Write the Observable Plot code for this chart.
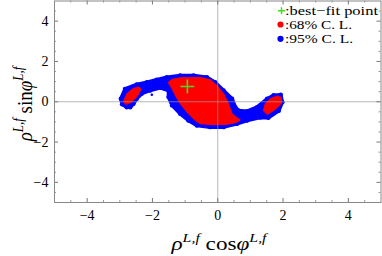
<!DOCTYPE html>
<html><head><meta charset="utf-8">
<script src="https://cdn.jsdelivr.net/npm/d3@7"></script>
<script src="https://cdn.jsdelivr.net/npm/@observablehq/plot@0.6"></script>
<style>body{margin:0;background:#fff} svg{display:block}</style>
</head><body><div id="chart"></div>
<script>
// 95% C.L. region outline (x = rho cos phi, y = rho sin phi)
const blueRegion = [[-2.97,0.15],[-2.93,-0.13],[-2.79,-0.27],[-2.68,-0.27],[-2.58,-0.10],[-2.48,0.15],[-2.33,0.40],[-2.07,0.56],[-1.76,0.69],[-1.51,0.56],[-1.51,0.23],[-1.40,-0.18],[-1.15,-0.60],[-0.90,-0.93],[-0.64,-1.18],[-0.23,-1.26],[0.18,-1.26],[0.59,-1.09],[0.90,-0.93],[1.30,-0.78],[1.55,-0.80],[1.87,-0.45],[1.98,-0.02],[1.93,0.35],[1.71,0.32],[1.51,0.15],[1.20,-0.27],[0.90,-0.47],[0.64,-0.43],[0.54,-0.27],[0.44,0.15],[0.18,0.56],[-0.08,0.97],[-0.33,1.22],[-0.74,1.30],[-1.15,1.30],[-1.56,1.22],[-1.87,1.09],[-2.17,0.97],[-2.48,0.86],[-2.84,0.64]];
const strayPoints = [[-2.02,0.35]];
// 68% C.L. regions
const redMain = [[-1.51,0.97],[-1.40,1.11],[-1.15,1.19],[-0.54,1.21],[-0.23,1.09],[-0.02,0.81],[0.18,0.40],[0.33,-0.10],[0.44,-0.60],[0.59,-0.79],[0.69,-0.90],[0.57,-1.03],[0.28,-1.12],[-0.13,-1.14],[-0.54,-1.09],[-0.69,-0.93],[-0.90,-0.60],[-1.15,-0.10],[-1.30,0.31],[-1.40,0.64]];
const redLeft = [[-2.88,0.06],[-2.78,0.41],[-2.59,0.66],[-2.41,0.73],[-2.35,0.61],[-2.47,0.26],[-2.65,-0.03],[-2.81,-0.13]];
const redRight = [[1.40,-0.43],[1.46,-0.08],[1.61,0.16],[1.83,0.29],[1.95,0.21],[1.95,-0.08],[1.76,-0.38],[1.52,-0.63]];
const bestFit = [[-0.93,0.76]];
const tickMajor = [-4,-2,0,2,4];
const tickMinor = [-4.5,-3.5,-3,-2.5,-1.5,-1,-0.5,0.5,1,1.5,2.5,3,3.5,4.5];
const legendLabels = [":best\u2212fit point", ":68% C. L.", ":95% C. L."];
const legendColors = ["#44dd22", "#ff0000", "#0000ff"];

const W = 382, H = 256;
const serif = "'Liberation Serif', 'DejaVu Serif', serif";
const mx = 0.123, my = 0.198; // major tick lengths in data units
const poly = (pts, color, sw) => Plot.line(pts, {x: d => d[0], y: d => d[1], curve: "linear-closed", fill: color, stroke: color, strokeWidth: sw});

const plot = Plot.plot({
  width: W, height: H,
  marginLeft: 54, marginRight: 1.5, marginTop: 0.5, marginBottom: 54,
  x: {domain: [-5, 5]},
  y: {domain: [-5, 5]},
  style: {fontFamily: serif, fontSize: "14px", background: "#fff"},
  marks: [
    poly(blueRegion, "#0000ff", 3.5),
    Plot.dot(blueRegion, {x: d => d[0], y: d => d[1], r: 2.2, fill: "#0000ff"}),
    Plot.dot(strayPoints, {x: d => d[0], y: d => d[1], r: 1.3, fill: "#0000ff"}),
    poly(redMain, "#ff0000", 1),
    poly(redLeft, "#ff0000", 1),
    poly(redRight, "#ff0000", 1),
    Plot.ruleX([0], {stroke: "#999", strokeOpacity: 0.7}),
    Plot.ruleY([0], {stroke: "#999", strokeOpacity: 0.7}),
    Plot.dot(bestFit, {x: d => d[0], y: d => d[1], symbol: "plus", r: 4.5, stroke: "#44dd22", strokeWidth: 1.6}),
    // frame ticks (inward)
    Plot.ruleX(tickMajor, {y1: -5, y2: -5 + my, stroke: "#777"}),
    Plot.ruleX(tickMinor, {y1: -5, y2: -5 + my/2, stroke: "#999"}),
    Plot.ruleX(tickMajor, {y1: 5, y2: 5 - my, stroke: "#777"}),
    Plot.ruleX(tickMinor, {y1: 5, y2: 5 - my/2, stroke: "#999"}),
    Plot.ruleY(tickMajor, {x1: -5, x2: -5 + mx, stroke: "#777"}),
    Plot.ruleY(tickMinor, {x1: -5, x2: -5 + mx/2, stroke: "#999"}),
    Plot.ruleY(tickMajor, {x1: 5, x2: 5 - mx, stroke: "#777"}),
    Plot.ruleY(tickMinor, {x1: 5, x2: 5 - mx/2, stroke: "#999"}),
    Plot.frame({stroke: "#888"}),
    Plot.axisX({ticks: tickMajor, tickSize: 0, tickPadding: 8, label: null}),
    Plot.axisY({ticks: tickMajor, tickSize: 0, tickPadding: 6, label: null})
  ]
});
document.getElementById("chart").appendChild(plot);
const svg = d3.select(plot);
svg.selectAll("g[aria-label$='tick label'] text, g[aria-label$='tick label']").style("font-size", "14px").style("font-family", serif);

// legend (top right, inside frame)
const lg = svg.append("g").attr("text-anchor", "start");
const legendBase = [14.5, 28.5, 42.5];
const legendSym = [10.8, 24.5, 38.8];
const legendWidth = [93, 67, 68];
legendLabels.forEach((lab, i) => {
  const ys = legendSym[i];
  if (i === 0) {
    lg.append("path").attr("d", `M${281.5 - 3.5},${ys} h7 M${281.5},${ys - 3.5} v7`).attr("stroke", legendColors[i]).attr("stroke-width", 1.5);
  } else {
    lg.append("circle").attr("cx", 280.5).attr("cy", ys).attr("r", 3.1).attr("fill", legendColors[i]);
  }
  lg.append("text").attr("x", 285).attr("y", legendBase[i]).attr("text-anchor", "start").attr("fill", "#000")
    .attr("textLength", legendWidth[i]).attr("lengthAdjust", "spacingAndGlyphs")
    .style("font-family", serif).style("font-size", "12.5px").text(lab);
});

// axis titles with superscripts
function title(g, base) {
  const t = g.append("text").attr("fill", "#000").attr("text-anchor", "middle").style("font-family", serif).style("font-size", "19px");
  t.append("tspan").style("font-style", "italic").text("\u03c1");
  t.append("tspan").style("font-style", "italic").style("font-size", "13px").attr("dy", -8).text("L,f");
  t.append("tspan").attr("dy", 8).text(" " + base);
  t.append("tspan").style("font-style", "italic").text("\u03c6");
  t.append("tspan").style("font-style", "italic").style("font-size", "13px").attr("dy", -8).text("L,f");
  return t;
}
title(svg.append("g").attr("transform", "translate(219,250) scale(1.22,1)"), "cos");
title(svg.append("g").attr("transform", "translate(32,104) rotate(-90) scale(1,1.15)"), "sin");
</script></body></html>
